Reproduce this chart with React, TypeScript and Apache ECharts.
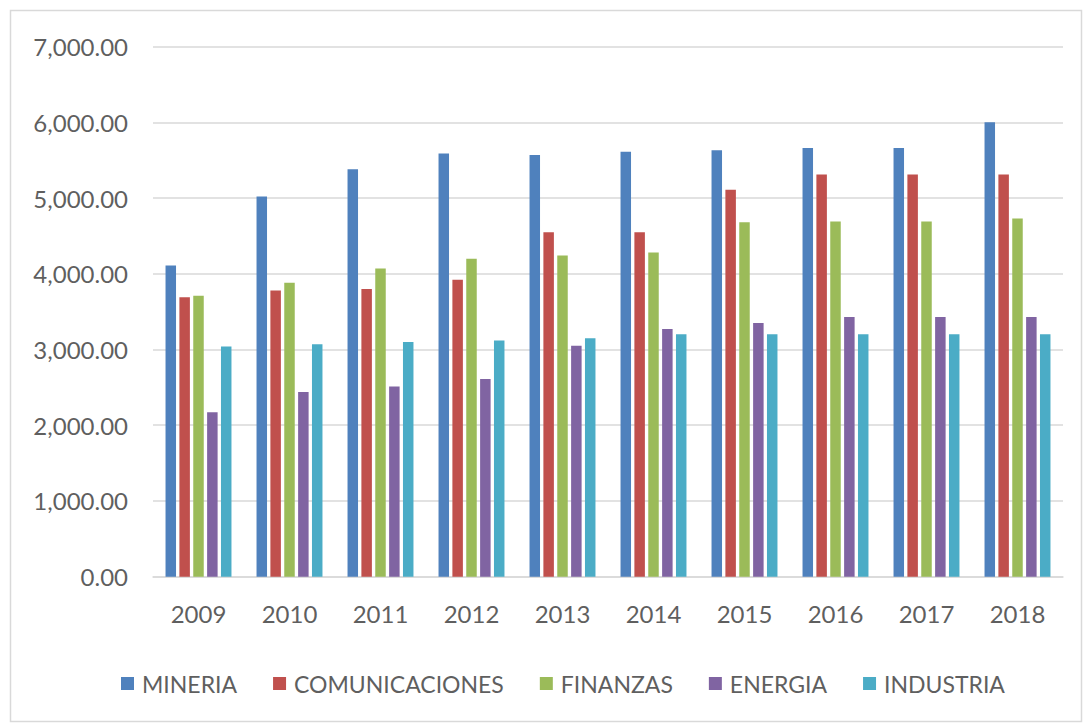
import React, { useEffect, useRef } from "react";
import * as echarts from "echarts";

const years = ["2009", "2010", "2011", "2012", "2013", "2014", "2015", "2016", "2017", "2018"];
const mineria = [4110, 5020, 5380, 5590, 5570, 5610, 5630, 5660, 5660, 6000];
const comunicaciones = [3690, 3780, 3800, 3920, 4550, 4550, 5110, 5310, 5310, 5310];
const finanzas = [3710, 3880, 4070, 4200, 4240, 4280, 4680, 4690, 4690, 4730];
const energia = [2170, 2440, 2510, 2610, 3050, 3270, 3350, 3430, 3430, 3430];
const industria = [3040, 3070, 3100, 3120, 3150, 3200, 3200, 3200, 3200, 3200];

const seriesDefs = [
  { name: "MINERIA", data: mineria, color: "#4F81BD" },
  { name: "COMUNICACIONES", data: comunicaciones, color: "#C0504D" },
  { name: "FINANZAS", data: finanzas, color: "#9BBB59" },
  { name: "ENERGIA", data: energia, color: "#8064A2" },
  { name: "INDUSTRIA", data: industria, color: "#4BACC6" },
];

const FONT = "Lato";
const TEXT = "#5f5f5f";

export default function App() {
  const ref = useRef<HTMLDivElement>(null);
  useEffect(() => {
    if (!ref.current) return;
    const chart = echarts.init(ref.current, null, { renderer: "svg" });
    chart.setOption({
      animation: false,
      backgroundColor: "#ffffff",
      textStyle: { fontFamily: FONT },
      graphic: [
        {
          type: "rect",
          shape: { x: 10.5, y: 10.5, width: 1071, height: 711 },
          style: { fill: "none", stroke: "#d9d9d9", lineWidth: 1.5 },
          silent: true,
        },
      ],
      grid: { left: 153, right: 20, top: 46.6, bottom: 148.3, containLabel: false },
      legend: {
        left: 116,
        top: 667,
        itemWidth: 13,
        itemHeight: 13,
        itemGap: 36,
        icon: "rect",
        textStyle: { fontFamily: FONT, fontSize: 23, color: TEXT, padding: [0, 0, 0, 3] },
        data: seriesDefs.map((s) => s.name),
      },
      xAxis: {
        type: "category",
        data: years,
        axisLine: { show: true, lineStyle: { color: "#d9d9d9", width: 1.5 } },
        axisTick: { show: false },
        axisLabel: { color: TEXT, fontFamily: FONT, fontSize: 24, margin: 25 },
      },
      yAxis: {
        type: "value",
        min: 0,
        max: 7000,
        interval: 1000,
        axisLine: { show: false },
        axisTick: { show: false },
        splitLine: { show: true, lineStyle: { color: "#d9d9d9", width: 1.5 } },
        axisLabel: {
          color: TEXT,
          fontFamily: FONT,
          fontSize: 24,
          margin: 25,
          formatter: (v: number) =>
            v.toLocaleString("en-US", { minimumFractionDigits: 2, maximumFractionDigits: 2 }),
        },
      },
      series: seriesDefs.map((s) => ({
        name: s.name,
        type: "bar",
        data: s.data,
        barWidth: 10.5,
        barGap: "32%",
        itemStyle: { color: s.color },
      })),
    });
    return () => chart.dispose();
  }, []);
  return (
    <div
      ref={ref}
      style={{ position: "absolute", left: 0, top: 0, width: 1083, height: 725 }}
    />
  );
}
